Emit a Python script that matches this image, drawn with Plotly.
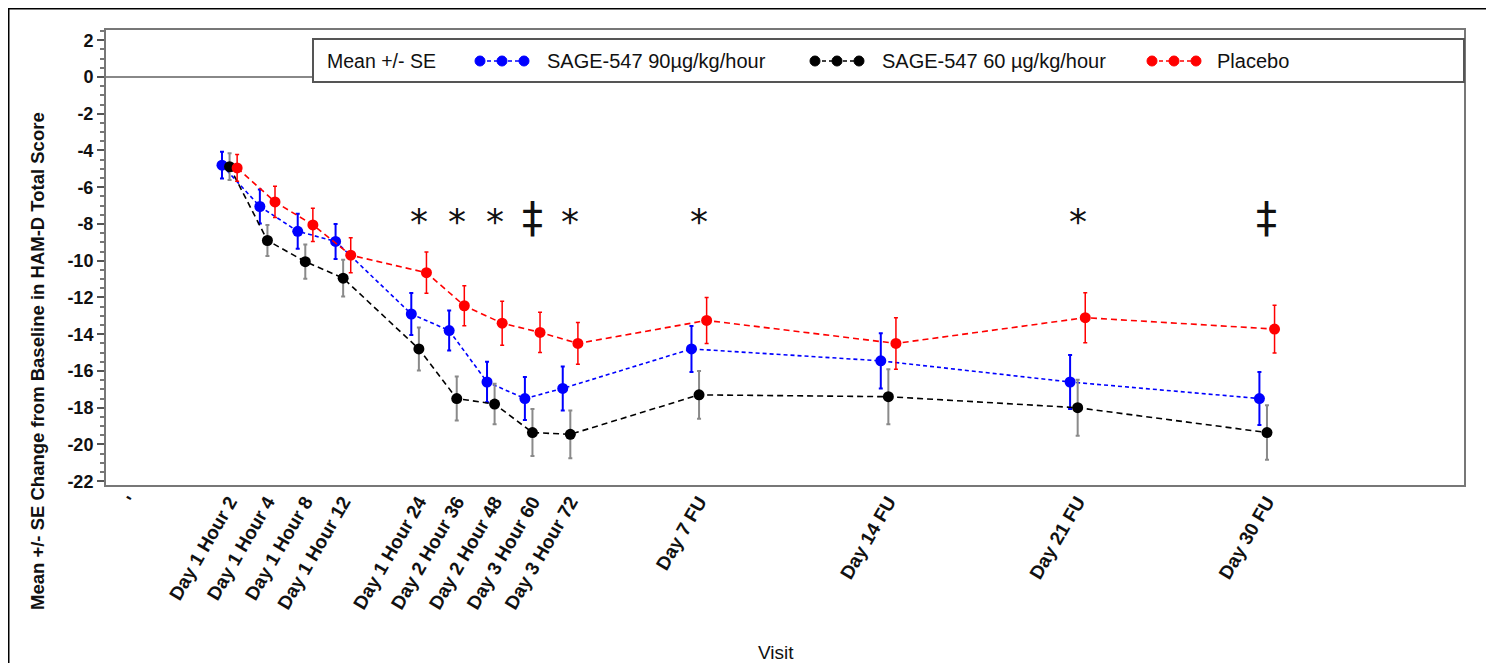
import plotly.graph_objects as go

# ---------------- data ----------------
tick_labels = ["'", "Day 1 Hour 2", "Day 1 Hour 4", "Day 1 Hour 8", "Day 1 Hour 12",
               "Day 1 Hour 24", "Day 2 Hour 36", "Day 2 Hour 48", "Day 3 Hour 60",
               "Day 3 Hour 72", "Day 7 FU", "Day 14 FU", "Day 21 FU", "Day 30 FU"]
tick_pos = [0, 2.6, 3.6, 4.6, 5.6, 7.6, 8.6, 9.6, 10.6, 11.6, 15, 20, 25, 30]

visits = tick_labels[1:]
visit_pos = tick_pos[1:]

sage90_mean = [-4.8, -7.05, -8.4, -8.95, -12.9, -13.8, -16.6, -17.5, -16.95, -14.8, -15.45, -16.6, -17.5]
sage90_se = [0.73, 0.92, 0.95, 0.95, 1.14, 1.09, 1.1, 1.17, 1.2, 1.25, 1.5, 1.47, 1.44]

sage60_mean = [-4.88, -8.9, -10.05, -10.95, -14.8, -17.5, -17.8, -19.35, -19.45, -17.3, -17.4, -18.0, -19.35]
sage60_se = [0.73, 0.84, 0.93, 1.0, 1.17, 1.2, 1.1, 1.28, 1.3, 1.3, 1.5, 1.52, 1.48]

placebo_mean = [-4.95, -6.8, -8.05, -9.7, -10.65, -12.45, -13.4, -13.9, -14.5, -13.25, -14.5, -13.1, -13.72]
placebo_se = [0.73, 0.85, 0.9, 0.95, 1.12, 1.09, 1.2, 1.09, 1.14, 1.25, 1.4, 1.36, 1.3]

sig_visits = ["Day 1 Hour 24", "Day 2 Hour 36", "Day 2 Hour 48", "Day 3 Hour 60",
              "Day 3 Hour 72", "Day 7 FU", "Day 21 FU", "Day 30 FU"]
sig_marks = ["*", "*", "*", "\u2021", "*", "*", "*", "\u2021"]

series_names = ["SAGE-547 90\u00b5g/kg/hour", "SAGE-547 60 \u00b5g/kg/hour", "Placebo"]

# ---------------- layout constants ----------------
W, H = 1494, 663
PAGE = 8                               # page body margin of the html page
PL, PR, PT, PB = 105, 1465, 29, 486    # plot area in screen px
FONT = "Liberation Sans, Arial, sans-serif"


def px_x(px):
    return (px - PL) / (PR - PL)


def px_y(py):
    return (PB - py) / (PB - PT)


fig = go.Figure()

styles = [
    dict(color="#0000ff", err="#0000ff", dash="4px,3px", off=-0.2, ew=2),
    dict(color="#000000", err="#8a8a8a", dash="6px,4px", off=0.0, ew=2),
    dict(color="#ff0000", err="#ff0000", dash="6px,4px", off=0.2, ew=1.5),
]
means = [sage90_mean, sage60_mean, placebo_mean]
ses = [sage90_se, sage60_se, placebo_se]

for name, m, s, st in zip(series_names, means, ses, styles):
    fig.add_trace(go.Scatter(
        x=[p + st["off"] for p in visit_pos], y=m, name=name,
        mode="lines+markers",
        line=dict(color=st["color"], width=1.6, dash=st["dash"]),
        marker=dict(color=st["color"], size=11),
        error_y=dict(type="data", array=s, visible=True, color=st["err"],
                     thickness=st["ew"], width=2),
        showlegend=False,
    ))

# significance markers
for v, mk in zip(sig_visits, sig_marks):
    xv = visit_pos[visits.index(v)]
    fig.add_annotation(x=xv, y=(-7.85 if mk == "*" else -7.65), text=mk, showarrow=False,
                       font=dict(family="DejaVu Sans", size=(36 if mk == "*" else 42),
                                 color="#111"),
                       xanchor="center", yanchor="middle")

shapes = []
# plot frame
shapes.append(dict(type="rect", xref="paper", yref="paper", x0=0, x1=1, y0=0, y1=1,
                   line=dict(color="#777", width=2), layer="above"))
# outer black frame
shapes.append(dict(type="rect", xref="paper", yref="paper",
                   x0=px_x(8), x1=px_x(1488), y0=px_y(720), y1=px_y(8),
                   line=dict(color="#000", width=3)))
# legend box
shapes.append(dict(type="rect", xref="paper", yref="paper",
                   x0=px_x(313), x1=px_x(1464), y0=px_y(82), y1=px_y(39),
                   line=dict(color="#555", width=2), fillcolor="white", layer="above"))

annotations = []
annotations.append(dict(xref="paper", yref="paper", x=px_x(325), y=px_y(61), text="Mean +/- SE",
                        showarrow=False, xanchor="left", yanchor="middle",
                        font=dict(family=FONT, size=19.5, color="#111")))

leg_keys = [(480, 545), (815, 880), (1152, 1215)]
for (kx, tx), name, st in zip(leg_keys, series_names, styles):
    ly = px_y(61)
    shapes.append(dict(type="line", xref="paper", yref="paper", x0=px_x(kx), x1=px_x(kx + 44),
                       y0=ly, y1=ly, line=dict(color=st["color"], width=1.6, dash="4px,3px"),
                       layer="above"))
    for k in range(3):
        cx = px_x(kx + 22 * k)
        shapes.append(dict(type="circle", xref="paper", yref="paper", xsizemode="pixel",
                           ysizemode="pixel", xanchor=cx, yanchor=ly, x0=-5, x1=5, y0=-5, y1=5,
                           fillcolor=st["color"], line=dict(color=st["color"], width=1),
                           layer="above"))
    annotations.append(dict(xref="paper", yref="paper", x=px_x(tx), y=ly, text=name,
                            showarrow=False, xanchor="left", yanchor="middle",
                            font=dict(family=FONT, size=20, color="#111")))

# axis titles
annotations.append(dict(xref="paper", yref="paper", x=px_x(37), y=px_y(361),
                        text="<b>Mean +/- SE Change from Baseline in HAM-D Total Score</b>",
                        textangle=-90, showarrow=False, xanchor="center", yanchor="middle",
                        font=dict(family=FONT, size=18.5, color="#111")))
annotations.append(dict(xref="paper", yref="paper", x=px_x(776), y=px_y(652),
                        text="Visit", showarrow=False, xanchor="center", yanchor="middle",
                        font=dict(family=FONT, size=19, color="#111")))

y_ticks = list(range(-22, 3, 2))

fig.update_layout(
    width=W, height=H,
    margin=dict(l=PL - PAGE, r=W - (PR - PAGE), t=PT - PAGE, b=H - (PB - PAGE)),
    plot_bgcolor="white", paper_bgcolor="white",
    showlegend=False,
    shapes=shapes,
    annotations=list(fig.layout.annotations) + annotations,
    xaxis=dict(range=[-0.69, 35.23], tickmode="array", tickvals=tick_pos, ticktext=tick_labels,
               tickangle=-60, showgrid=False, zeroline=False, ticks="",
               tickfont=dict(family=FONT, size=19, color="#111", weight="bold"),
               showline=False),
    yaxis=dict(range=[-22.26, 2.61], tickmode="array", tickvals=y_ticks,
               ticktext=[str(v) for v in y_ticks],
               ticks="outside", ticklen=7, tickwidth=1.5, tickcolor="#555",
               minor=dict(dtick=0.5, tick0=0, ticks="outside", ticklen=4, tickcolor="#777",
                          showgrid=False),
               showgrid=False, zeroline=True, zerolinecolor="#888", zerolinewidth=2,
               showline=False,
               tickfont=dict(family=FONT, size=18, color="#111", weight="bold")),
)

fig.write_html("out.html")
